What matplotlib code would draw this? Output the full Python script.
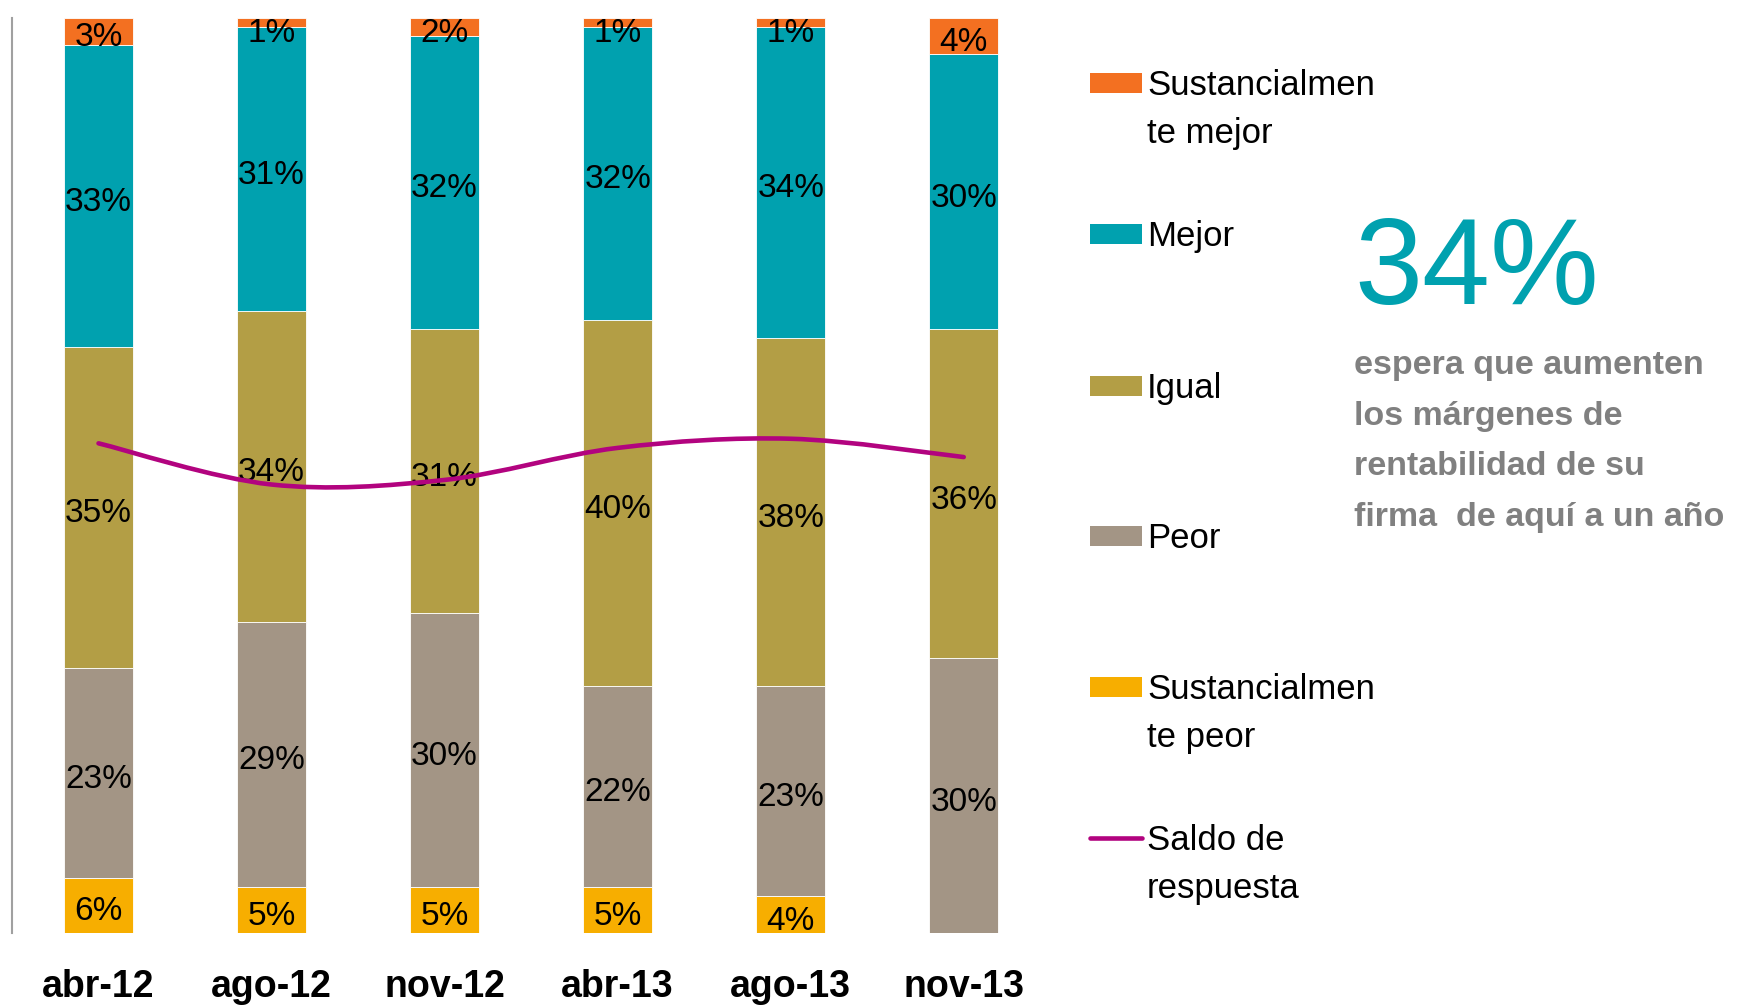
import numpy as np
import matplotlib
matplotlib.use("Agg")
import matplotlib.pyplot as plt
from matplotlib.path import Path
from matplotlib.patches import PathPatch, Rectangle
from matplotlib.lines import Line2D

plt.rcParams['font.family'] = ['Liberation Sans', 'DejaVu Sans']

periods = ["abr-12", "ago-12", "nov-12", "abr-13", "ago-13", "nov-13"]
sust_peor = [6, 5, 5, 5, 4, 0]
peor = [23, 29, 30, 22, 23, 30]
igual = [35, 34, 31, 40, 38, 36]
mejor = [33, 31, 32, 32, 34, 30]
sust_mejor = [3, 1, 2, 1, 1, 4]
saldo = [7, -2, -1, 6, 8, 4]

series = [
    ("Sustancialmen\nte peor", sust_peor, "#F7AE00"),
    ("Peor", peor, "#A39585"),
    ("Igual", igual, "#B39E45"),
    ("Mejor", mejor, "#00A1AF"),
    ("Sustancialmen\nte mejor", sust_mejor, "#F37021"),
]
line_color = "#B2037F"

fig = plt.figure(figsize=(17.38, 10.05), dpi=100)
ax = fig.add_axes([0.0069, 0.0716, 0.5974, 0.9108])

x = np.arange(len(periods))
bottom = np.zeros(len(periods))
for name, vals, color in series:
    vals = np.array(vals, dtype=float)
    ax.bar(x, vals, width=0.4, bottom=bottom, color=color,
           edgecolor="white", linewidth=0.6)
    for xi, b, v in zip(x, bottom, vals):
        if v > 0:
            yl = min(b + v / 2, 99.0) - 0.7
            ax.text(xi, yl, f"{int(v)}%", ha="center", va="center",
                    fontsize=24, color="black")
    bottom += vals

ax.set_xlim(-0.5, 5.5)
ax.set_ylim(0, 100)
ax.set_yticks([])
ax.set_xticks(x)
ax.set_xticklabels(periods, fontsize=27, fontweight="bold")
ax.tick_params(axis="x", length=0, pad=26)
for s in ["top", "right", "bottom"]:
    ax.spines[s].set_visible(False)
ax.spines["left"].set_color("#A0A0A0")
ax.spines["left"].set_linewidth(1.5)

# smoothed balance line on a secondary axis
ax2 = ax.twinx()
ax2.set_ylim(-100, 100)
ax2.set_yticks([])
for s in ax2.spines.values():
    s.set_visible(False)
pts = np.column_stack([x, saldo]).astype(float)
ext = np.vstack([pts[0], pts, pts[-1]])
verts = [tuple(pts[0])]
codes = [Path.MOVETO]
for i in range(len(pts) - 1):
    p0, p1, p2, p3 = ext[i], ext[i + 1], ext[i + 2], ext[i + 3]
    c1 = p1 + (p2 - p0) / 6
    c2 = p2 - (p3 - p1) / 6
    verts += [tuple(c1), tuple(c2), tuple(p2)]
    codes += [Path.CURVE4] * 3
ax2.add_patch(PathPatch(Path(verts, codes), facecolor="none",
                        edgecolor=line_color, linewidth=3.3, capstyle="round"))

# legend drawn on the figure
leg_items = [series[4], series[3], series[2], series[1], series[0]]
leg_y = [83, 234, 386, 536, 687]
for (name, vals, color), yp in zip(leg_items, leg_y):
    yf = 1 - yp / 1005
    fig.add_artist(Rectangle((1090 / 1738, yf - 10 / 1005), 52 / 1738, 20 / 1005,
                             transform=fig.transFigure, facecolor=color,
                             edgecolor="none"))
    fig.text(1147 / 1738, yf + 14 / 1005, name, ha="left", va="top",
             fontsize=25, linespacing=1.56)
yf = 1 - 838 / 1005
fig.add_artist(Line2D([1090 / 1738, 1142 / 1738], [yf, yf], transform=fig.transFigure,
                      color=line_color, linewidth=3.3, solid_capstyle="round"))
fig.text(1147 / 1738, yf + 14 / 1005, "Saldo de\nrespuesta", ha="left", va="top",
         fontsize=25, linespacing=1.56)

# highlighted figure
fig.text(1354 / 1738, 1 - 304 / 1005, "34%", ha="left", va="baseline",
         fontsize=88, color="#00A1AF")
fig.text(1354 / 1738, 1 - 350 / 1005,
         "espera que aumenten\nlos márgenes de\nrentabilidad de su\nfirma  de aquí a un año",
         ha="left", va="top", fontsize=24.5, fontweight="bold", color="#808080",
         linespacing=1.82)

fig.savefig("out.png", dpi=100)
